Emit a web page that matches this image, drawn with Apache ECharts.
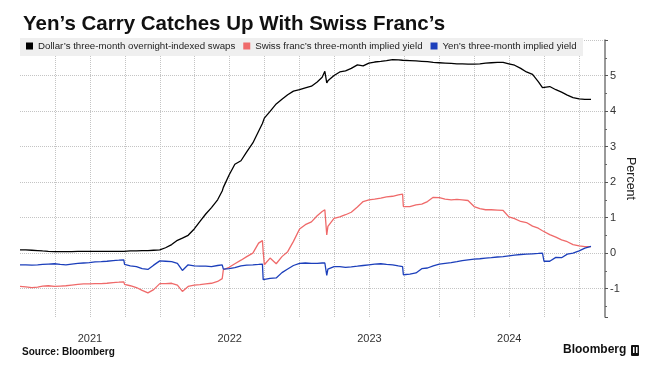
<!DOCTYPE html>
<html><head><meta charset="utf-8">
<script src="https://cdn.jsdelivr.net/npm/echarts@6/dist/echarts.min.js"></script>
<style>html,body{margin:0;padding:0;background:#fff}#c{width:659px;height:379px}</style>
</head><body><div id="c"></div>
<script>
const dates = [
'2021-01-01','2021-01-16','2021-02-01','2021-02-16','2021-03-01','2021-03-16','2021-04-01','2021-04-16','2021-05-01','2021-05-16','2021-06-01','2021-06-16',
'2021-07-01','2021-07-16','2021-08-01','2021-08-16','2021-09-01','2021-09-16','2021-09-29','2021-10-01','2021-10-16','2021-11-01','2021-11-16','2021-12-01','2021-12-16',
'2022-01-01','2022-01-16','2022-02-01','2022-02-16','2022-03-01','2022-03-16','2022-04-01','2022-04-16','2022-05-01','2022-05-16','2022-06-01','2022-06-13','2022-06-16',
'2022-07-01','2022-07-16','2022-08-01','2022-08-16','2022-09-01','2022-09-16','2022-09-26','2022-09-28','2022-10-01','2022-10-16','2022-11-01','2022-11-16','2022-12-01','2022-12-16',
'2023-01-01','2023-01-16','2023-02-01','2023-02-16','2023-03-01','2023-03-08','2023-03-13','2023-03-16','2023-04-01','2023-04-16','2023-05-01','2023-05-16','2023-06-01','2023-06-16',
'2023-07-01','2023-07-16','2023-08-01','2023-08-16','2023-09-01','2023-09-16','2023-09-27','2023-09-29','2023-10-16','2023-11-01','2023-11-16','2023-12-01','2023-12-16',
'2024-01-01','2024-01-16','2024-02-01','2024-02-16','2024-03-01','2024-03-16','2024-04-01','2024-04-16','2024-05-01','2024-05-16','2024-06-01','2024-06-16',
'2024-07-01','2024-07-16','2024-08-01','2024-08-16','2024-09-01','2024-09-16','2024-09-27','2024-10-01','2024-10-16','2024-11-01','2024-11-16','2024-12-01','2024-12-16',
'2025-01-01','2025-01-16','2025-02-01'
];
const dollarOIS = [
0.09,0.09,0.08,0.07,0.06,0.05,0.04,0.04,0.04,0.04,0.05,0.05,
0.05,0.05,0.05,0.05,0.05,0.05,0.05,0.06,0.06,0.06,0.07,0.07,0.08,
0.09,0.15,0.24,0.36,0.42,0.50,0.68,0.89,1.10,1.28,1.50,1.75,1.85,
2.20,2.50,2.60,2.85,3.10,3.43,3.65,3.68,3.80,3.99,4.20,4.33,4.46,4.56,
4.60,4.65,4.70,4.82,4.95,5.12,4.79,4.85,5.00,5.10,5.13,5.20,5.30,5.27,
5.35,5.38,5.40,5.42,5.45,5.44,5.43,5.43,5.42,5.41,5.40,5.39,5.37,
5.36,5.35,5.34,5.33,5.33,5.32,5.32,5.33,5.35,5.36,5.37,5.37,
5.33,5.29,5.20,5.10,5.03,4.83,4.66,4.65,4.69,4.60,4.53,4.45,4.38,
4.34,4.33,4.33
];
const swissYield = [
-0.94,-0.95,-0.97,-0.96,-0.93,-0.92,-0.94,-0.93,-0.92,-0.90,-0.88,-0.87,
-0.87,-0.86,-0.86,-0.85,-0.83,-0.82,-0.81,-0.88,-0.92,-0.97,-1.05,-1.12,-1.03,
-0.86,-0.86,-0.85,-0.90,-1.08,-0.94,-0.90,-0.89,-0.87,-0.85,-0.80,-0.72,-0.47,
-0.40,-0.30,-0.20,-0.10,0.00,0.28,0.35,0.04,-0.33,-0.14,-0.30,-0.10,0.04,0.33,
0.68,0.80,0.88,1.05,1.17,1.22,0.51,0.75,0.98,1.02,1.08,1.15,1.30,1.45,
1.50,1.52,1.55,1.58,1.60,1.64,1.66,1.31,1.31,1.36,1.38,1.45,1.57,
1.56,1.52,1.50,1.51,1.50,1.48,1.31,1.25,1.22,1.22,1.21,1.20,
1.02,0.97,0.89,0.86,0.76,0.70,0.63,0.61,0.52,0.45,0.37,0.32,0.24,
0.20,0.18,0.18
];
const yenYield = [
-0.33,-0.33,-0.34,-0.33,-0.32,-0.31,-0.30,-0.32,-0.33,-0.31,-0.29,-0.28,
-0.27,-0.25,-0.24,-0.23,-0.21,-0.20,-0.19,-0.32,-0.36,-0.38,-0.44,-0.46,-0.34,
-0.22,-0.23,-0.24,-0.29,-0.49,-0.33,-0.36,-0.37,-0.37,-0.38,-0.35,-0.33,-0.45,
-0.44,-0.41,-0.36,-0.34,-0.33,-0.32,-0.31,-0.75,-0.74,-0.71,-0.70,-0.55,-0.45,-0.35,
-0.29,-0.28,-0.29,-0.29,-0.28,-0.28,-0.63,-0.45,-0.38,-0.38,-0.40,-0.39,-0.37,-0.35,
-0.33,-0.31,-0.30,-0.32,-0.33,-0.36,-0.38,-0.61,-0.59,-0.56,-0.44,-0.42,-0.36,
-0.31,-0.29,-0.27,-0.24,-0.21,-0.19,-0.17,-0.16,-0.14,-0.13,-0.11,-0.10,
-0.08,-0.06,-0.04,-0.03,-0.02,-0.01,0.00,-0.23,-0.23,-0.12,-0.13,-0.03,0.00,
0.06,0.14,0.19
];
const yearLabels = ['2021','2022','2023','2024'];
const seriesNames = ['Dollar\u2019s three-month overnight-indexed swaps','Swiss franc\u2019s three-month implied yield','Yen\u2019s three-month implied yield'];
const seriesColors = ['#000000','#ef6a6a','#1c3fbb'];

function toYear(d){
  const y = +d.slice(0,4);
  const t = Date.parse(d + 'T00:00:00Z');
  const s = Date.UTC(y,0,1), e = Date.UTC(y+1,0,1);
  return y + (t - s) / (e - s);
}
const xs = dates.map(toYear);
const pairs = vals => vals.map((v,i) => [xs[i], v]);

const FONT = '"Liberation Sans", Arial, sans-serif';
const chart = echarts.init(document.getElementById('c'), null, {renderer:'canvas'});
chart.setOption({
  animation:false,
  backgroundColor:'#ffffff',
  title:{text:'Yen\u2019s Carry Catches Up With Swiss Franc\u2019s', left:18, top:9,
    textStyle:{fontSize:20.5, fontWeight:'bold', color:'#111', fontFamily:FONT}},
  legend:{left:26, top:41, itemWidth:7, itemHeight:7, itemGap:8, icon:'rect', padding:0,
    selectedMode:false, data:seriesNames,
    textStyle:{fontSize:9.7, color:'#222', fontFamily:FONT}},
  graphic:{elements:[
    {type:'rect', left:20, top:38, z:1, shape:{width:563, height:18}, style:{fill:'#efefef'}},
    {type:'text', left:22, top:347, z:5, style:{text:'Source: Bloomberg', font:'bold 10px "Liberation Sans", Arial, sans-serif', fill:'#111'}},
    {type:'text', left:563, top:344, z:5, style:{text:'Bloomberg', font:'bold 12px "Liberation Sans", Arial, sans-serif', fill:'#111'}},
    {type:'rect', left:631, top:345, z:5, shape:{width:8, height:11, r:1}, style:{fill:'#111'}},
    {type:'rect', left:633, top:347, z:6, shape:{width:1.5, height:6}, style:{fill:'#fff'}},
    {type:'rect', left:636, top:347, z:6, shape:{width:1.5, height:6}, style:{fill:'#fff'}}
  ]},
  grid:{left:20, right:54, top:40, bottom:62},
  xAxis:{type:'value', min:2021, max:2025.185, interval:0.25,
    axisLine:{show:false}, axisTick:{show:false},
    splitLine:{show:true, showMinLine:false, showMaxLine:false, lineStyle:{type:'dotted', color:'#c4c4c4', width:1}},
    axisLabel:{margin:16, fontSize:11, color:'#333', fontFamily:FONT,
      formatter: v => { const y = Math.floor(v + 1e-9); const f = v - y;
        return (Math.abs(f - 0.5) < 1e-6 && yearLabels.indexOf(String(y)) >= 0) ? String(y) : ''; }}},
  yAxis:{type:'value', position:'right', min:-1.8, max:6, splitNumber:8,
    name:'Percent', nameLocation:'middle', nameRotate:-90, nameGap:19, nameMoveOverlap:false,
    nameTextStyle:{fontSize:12.5, color:'#222', fontFamily:FONT},
    axisLine:{show:true, lineStyle:{color:'#777', width:1.5}},
    axisTick:{show:true, length:3, lineStyle:{color:'#555'}},
    minorTick:{show:true, splitNumber:2, length:2, lineStyle:{color:'#666'}},
    splitLine:{show:true, showMinLine:false, lineStyle:{type:'dotted', color:'#c4c4c4', width:1}},
    axisLabel:{margin:5, fontSize:11, color:'#333', fontFamily:FONT,
      formatter: v => (Math.abs(v - Math.round(v)) < 1e-6 && v < 5.5) ? String(Math.round(v)) : ''}},
  series:[
    {name:seriesNames[0], type:'line', data:pairs(dollarOIS), showSymbol:false, color:seriesColors[0], lineStyle:{width:1.3, color:seriesColors[0]}},
    {name:seriesNames[1], type:'line', data:pairs(swissYield), showSymbol:false, color:seriesColors[1], lineStyle:{width:1.3, color:seriesColors[1]}},
    {name:seriesNames[2], type:'line', data:pairs(yenYield), showSymbol:false, color:seriesColors[2], lineStyle:{width:1.3, color:seriesColors[2]}}
  ]
});
</script></body></html>
